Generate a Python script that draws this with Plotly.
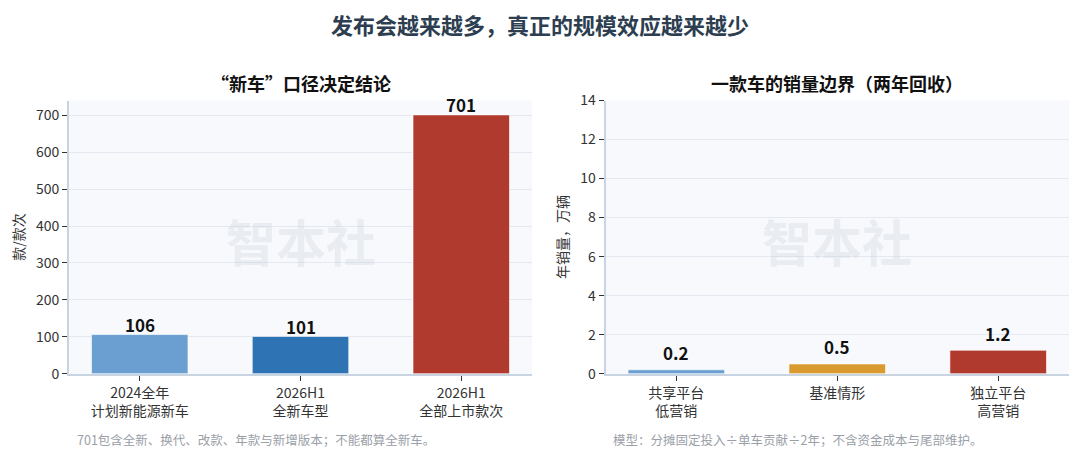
import plotly.graph_objects as go

# ---- data ----
left_categories = ["2024全年<br>计划新能源新车", "2026H1<br>全新车型", "2026H1<br>全部上市款次"]
left_values = [106, 101, 701]
right_categories = ["共享平台<br>低营销", "基准情形", "独立平台<br>高营销"]
right_values = [0.2, 0.5, 1.2]

main_title = "发布会越来越多，真正的规模效应越来越少"
left_title = "“新车”口径决定结论"
right_title = "一款车的销量边界（两年回收）"
left_ytitle = "款/款次"
right_ytitle = "年销量，万辆"
left_note = "701包含全新、换代、改款、年款与新增版本；不能都算全新车。"
right_note = "模型：分摊固定投入÷单车贡献÷2年；不含资金成本与尾部维护。"
watermark = "智本社"

left_colors = ["#6b9fd1", "#2e74b5", "#b03a2e"]
right_colors = ["#6b9fd1", "#d99b2f", "#b03a2e"]

FONT = "Noto Sans CJK SC"
W, H = 1080, 458
OFF = 8  # page body offset


def px(x):
    return (x - OFF) / W


def py(y):
    return 1 - (y - OFF) / H


fig = go.Figure()

fig.add_trace(go.Bar(
    x=left_categories, y=left_values, width=0.6,
    marker=dict(color=left_colors, line=dict(color="rgba(255,255,255,0.6)", width=1)),
    xaxis="x", yaxis="y", showlegend=False, hoverinfo="skip",
))
fig.add_trace(go.Bar(
    x=right_categories, y=right_values, width=0.6,
    marker=dict(color=right_colors, line=dict(color="rgba(255,255,255,0.6)", width=1)),
    xaxis="x2", yaxis="y2", showlegend=False, hoverinfo="skip",
))

y0 = py(373.7)
y1 = py(100.5)
lx0, lx1 = px(69), px(532)
rx0, rx1 = px(605.5), px(1069)

xcommon = dict(
    type="category", range=[-0.44, 2.44], showgrid=False,
    showline=True, linecolor="#c9d4e2", linewidth=2,
    ticks="outside", ticklen=5, tickcolor="#333", tickwidth=1,
    tickfont=dict(family=FONT, size=14, color="#333"),
    automargin=False,
)
ycommon = dict(
    showgrid=True, gridcolor="#e4e9f1", gridwidth=1,
    showline=True, linecolor="#c9d4e2", linewidth=2,
    ticks="outside", ticklen=5, tickcolor="#333", tickwidth=1,
    tickfont=dict(family=FONT, size=14, color="#333"),
    zeroline=False, domain=[y0, y1], automargin=False,
)

fig.update_layout(
    width=W, height=H,
    margin=dict(l=0, r=0, t=0, b=0, autoexpand=False),
    paper_bgcolor="white", plot_bgcolor="#f8f9fc",
    font=dict(family=FONT, color="#333"),
    xaxis=dict(domain=[lx0, lx1], anchor="y", **xcommon),
    xaxis2=dict(domain=[rx0, rx1], anchor="y2", **xcommon),
    yaxis=dict(anchor="x", range=[0, 740], dtick=100,
               title=dict(text=left_ytitle, font=dict(family=FONT, size=14, color="#333"), standoff=8),
               **ycommon),
    yaxis2=dict(anchor="x2", range=[0, 14], dtick=2,
                title=dict(text=right_ytitle, font=dict(family=FONT, size=14, color="#333"), standoff=8),
                **ycommon),
)

ann = []
# value labels above bars
for cat, v in zip(left_categories, left_values):
    ann.append(dict(text=f"<b>{v:g}</b>", x=cat, y=v, xref="x", yref="y", yshift=10,
                    showarrow=False, font=dict(family=FONT, size=17, color="#111"),
                    xanchor="center", yanchor="middle"))
for cat, v in zip(right_categories, right_values):
    ann.append(dict(text=f"<b>{v:g}</b>", x=cat, y=v, xref="x2", yref="y2", yshift=17,
                    showarrow=False, font=dict(family=FONT, size=17, color="#111"),
                    xanchor="center", yanchor="middle"))

ann.append(dict(text=f"<b>{main_title}</b>", x=px(540), y=py(24), xref="paper", yref="paper",
                showarrow=False, font=dict(family=FONT, size=22, color="#2c3e50"),
                xanchor="center", yanchor="middle", borderpad=0))
ann.append(dict(text=f"<b>{left_title}</b>", x=(lx0 + lx1) / 2, y=py(83), xref="paper", yref="paper",
                showarrow=False, font=dict(family=FONT, size=18, color="#111"),
                xanchor="center", yanchor="middle"))
ann.append(dict(text=f"<b>{right_title}</b>", x=(rx0 + rx1) / 2, y=py(83), xref="paper", yref="paper",
                showarrow=False, font=dict(family=FONT, size=18, color="#111"),
                xanchor="center", yanchor="middle"))
for cx in [(lx0 + lx1) / 2, (rx0 + rx1) / 2]:
    ann.append(dict(text=f"<b>{watermark}</b>", x=cx, y=py(240), xref="paper", yref="paper",
                    showarrow=False, font=dict(family=FONT, size=50, color="rgba(200,208,220,0.3)"),
                    xanchor="center", yanchor="middle"))
ann.append(dict(text=left_note, x=px(75), y=py(439), xref="paper", yref="paper",
                showarrow=False, font=dict(family=FONT, size=12.5, color="#9aa0a8"),
                xanchor="left", yanchor="middle"))
ann.append(dict(text=right_note, x=px(611), y=py(439), xref="paper", yref="paper",
                showarrow=False, font=dict(family=FONT, size=12.5, color="#9aa0a8"),
                xanchor="left", yanchor="middle"))
fig.update_layout(annotations=ann)

fig.write_html("out.html")
